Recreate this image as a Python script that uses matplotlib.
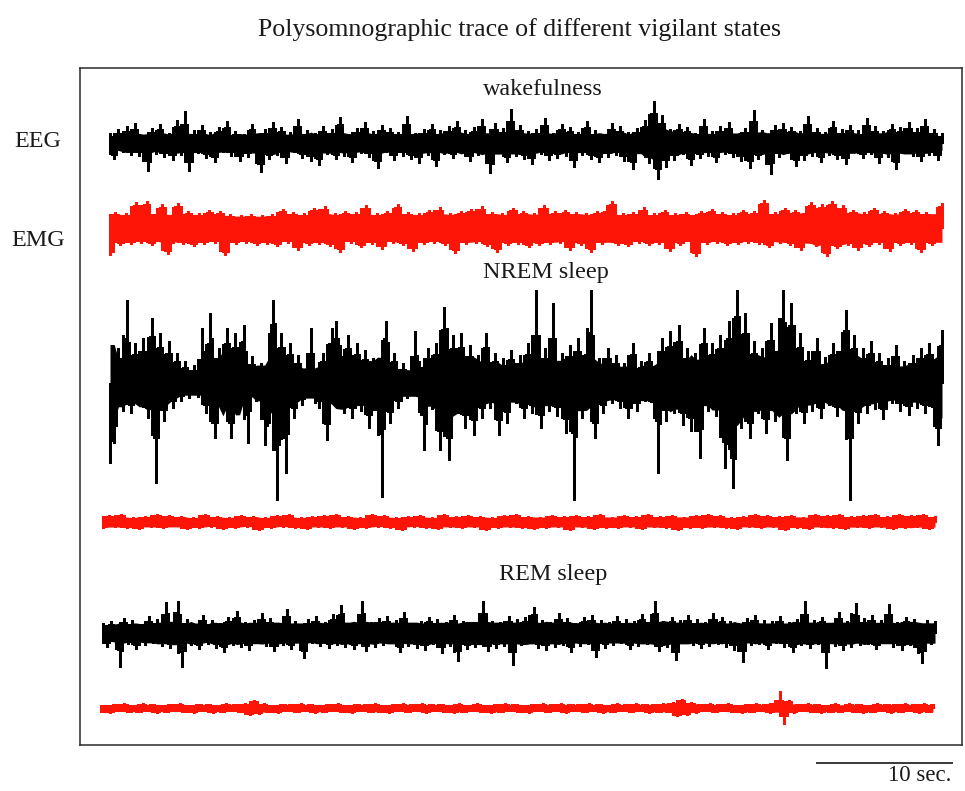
import numpy as np
import matplotlib
matplotlib.use("Agg")
import matplotlib.pyplot as plt

# ---------------- data (amplitudes, a.u. ~ pixels) ----------------
state_labels = ["wakefulness", "NREM sleep", "REM sleep"]
channel_labels = ["EEG", "EMG"]
scale_bar_seconds = 10

wake_eeg = [
    10, -16, 14, -9, 17, -12, 20, -13, -8, -28, 15, -11, 19, -14, 10, -17, 23, -12, 32, -28,
    13, -10, 18, -15, 11, -19, 16, -9, 22, -13, 12, -18, 9, -14, 19, -11, -29, 14, -16, 21,
    -12, 16, -20, 11, -9, 24, -15, 13, -18, 10, -22, 17, -11, 14, -16, 26, -13, 9, -19, 15,
    -10, 21, -14, 12, -25, 18, -9, 15, -17, 11, -13, 27, -16, 10, -20, 14, -12, 19, -23, 13,
    -11, 17, -15, 22, -9, 13, -18, 16, -12, 24, -14, -30, 20, -10, 15, -19, 34, -13, 18, -16,
    12, -21, 14, -11, 25, -17, 10, -15, 19, -13, 16, -24, 11, -12, 22, -16, 13, -19, 9, -14,
    20, -12, 17, -18, 11, -26, 15, -10, 23, -20, 42, -36, 28, -24, 14, -17, 19, -11, 16, -22,
    10, -15, 24, -13, 12, -19, 17, -11, 21, -14, 9, -18, 15, -25, 33, -16, 13, -12, -31, 18,
    -14, 20, -10, 16, -23, 12, -17, 27, -13, 15, -19, 11, -12, 22, -16, 14, -21, 18, -9, 13,
    -15, 25, -11, 17, -20, 12, -14, 19, -26, 16, -10, 21, -13, 15, -18, 24, -12, 14, -17, 10,
]

wake_emg = [
    -27, 16, -17, 15, -16, 26, -15, 27, -17, 16, 24, -26, -15, 25, -16, 17, -18, 15, -16, 18,
    -15, 17, -27, 14, -16, 13, -15, 14, -17, 13, -16, 14, -18, 19, -15, 16, -22, 15, -17, 20,
    -16, 22, -18, 15, -24, 17, -15, 16, -19, 23, -16, 15, -21, 17, -15, 24, -17, 16, -23, 15,
    -16, 18, -15, 21, -17, 15, -25, 17, -16, 19, -15, 22, -18, 16, -24, 15, -17, 20, -16, 17,
    -19, 15, -17, 23, -16, 17, -15, 18, -22, 16, -17, 15, -24, 17, -16, 19, 27, -17, 15, -18,
    16, -15, 21, -17, 15, -16, 18, -23, 15, -17, 16, -15, -28, 17, -16, 19, -15, 16, -17, 15,
    -16, 18, -15, 17, -16, 28, -19, 16, -15, 20, -17, 18, -22, 17, 26, -18, 24, -28, 27, -20,
    23, -17, 18, -22, 16, -18, 20, -16, 17, -23, 15, -17, 19, -16, 18, -24, 16, -17, 15, 25,
]

nrem_eeg = [
    -80, -60, 35, -28, 83, -30, 40, -22, 45, -35, 65, -100, 50, -38, 42, -25, 30, -18, 22, -15,
    18, -14, 55, -30, 70, -55, 35, -28, 55, -55, 50, -20, 58, -60, 27, -18, 20, -62, -40, 83,
    -117, 50, -90, 40, -35, 28, -22, 18, 55, -20, -25, 30, -57, 55, 62, 38, -30, 48, -35, 40,
    -28, 33, -45, 25, -38, -114, 62, -40, 30, -25, 20, -15, 14, 52, 22, -67, 35, -26, 40, -67,
    76, -77, 48, -30, 50, -45, 38, -52, 28, -35, 50, -25, 30, -52, 25, -40, 33, -20, 28, -35,
    40, -30, 93, -45, 35, -28, 80, -33, 30, -50, 38, -117, 45, -35, 40, 93, -55, 25, -30, 35,
    -20, 28, -25, 20, -35, 40, -28, 22, -18, 30, -26, -90, 45, -38, 52, -30, 58, -42, 35, -48,
    30, -75, 55, -28, 40, -33, 48, -85, 62, -105, 93, -45, 70, -55, 42, -30, 35, -50, 60, -38,
    45, 93, -77, 80, -30, 50, -40, 32, -28, 45, -35, 26, -22, 40, -33, 45, 73, -117, 48, -40,
    35, -30, 42, -26, 30, -36, 25, -20, 38, -28, 22, -32, 28, -25, 35, -30, 40, -33, -62, 53,
]

nrem_emg = [
    -6, 7, -5, 8, -6, 5, -7, 6, -5, 8, -6, 7, -4, 6, -7, 5, -6, 8, -5, 6,
    -7, 5, -6, 7, -5, 6, -8, 5, -6, 7, -5, 8, -6, 5, -7, 6, -5, 7, -6, 8,
    -5, 6, -7, 5, -6, 8, -5, 7, -6, 5, -8, 6, -5, 7, -6, 5, -7, 8, -5, 6,
    -6, 7, -5, 6, -8, 5, -6, 7, -5, 8, -6, 6, -7, 5, -6, 7, -5, 6, -8, 7,
    -5, 6, -7, 8, -6, 5, -6, 7, -5, 6, -7, 8, -5, 6, -6, 7, -8, 5, -6, 7,
    -6, 8, -5, 7, -6, 5, -7, 6, -5, 8, -6, 7, -5, 6, -8, 7, -6, 5, -7, 8,
    -5, 7, -6, 8, -7, 6, -5, 7, -6, 8, -5, 6, -7, 8, -6, 7, -5, 8, -7, 6,
]

rem_eeg = [
    10, -14, 12, -9, -34, 15, -11, 13, -16, 9, -12, 17, -10, 14, -13, 31, -15, 11, 32, -34,
    14, -12, 9, -16, 18, -11, 13, -15, 10, -19, 16, -12, 22, -14, 11, -17, 13, -10, 20, -13,
    15, -18, 9, -12, 24, -16, 12, -11, -25, 14, -10, 17, -13, 11, -15, 19, -12, 28, -14, 10,
    -16, 13, 32, -18, 11, -14, 15, -12, 17, -10, 13, -19, 21, -13, 10, -15, 12, -17, 16, -11,
    14, -20, 11, -13, 18, -28, 12, -16, 10, -14, 15, 32, -18, 12, -15, 11, -13, 17, -32, 14,
    -12, 16, -10, 26, -15, 13, -17, 11, -14, 20, -12, 15, -19, 10, -13, 16, -11, 18, -24, 13,
    -15, 11, -12, 17, -10, 14, -16, 12, -13, 19, -11, 15, 32, -18, 12, -14, 16, -27, 13, -10,
    18, -12, 14, -15, 11, -13, 20, -11, 16, -14, 12, -17, 10, -29, 15, -12, 18, -11, 13, -16,
    12, -10, 17, -14, 11, -19, 14, -12, 32, -15, 13, -11, 16, -35, 10, -13, 21, -17, 12, -14,
    30, -12, 15, -11, 18, -16, 13, -10, 29, -14, 11, -17, 16, -12, 14, -20, -30, 13, -11, 12,
]

rem_emg = [
    -4, 3, -5, 4, -3, 5, -4, 3, -4, 5, -3, 4, -5, 3, -4, 4, -3, 5, -4, 3,
    -5, 4, -3, 4, -5, 3, -4, 5, -3, 4, -4, 5, -7, 8, -6, 5, -4, 3, -5, 4,
    -3, 4, -4, 5, -3, 4, -5, 3, -4, 4, -3, 5, -4, 3, -5, 4, -3, 4, -4, 5,
    -4, 3, -5, 4, -3, 5, -4, 4, -3, 5, -5, 4, -3, 4, -4, 3, -5, 5, -4, 3,
    -3, 5, -4, 3, -5, 4, -4, 5, -3, 4, -4, 3, -5, 4, -3, 5, -4, 4, -3, 5,
    -5, 4, -3, 4, -4, 5, -3, 4, -5, 3, -4, 5, -3, 4, -4, 5, -3, 4, -5, 4,
    -4, 5, -4, 6, -8, 9, -7, 6, -5, 4, -3, 5, -4, 4, -3, 5, -4, 3, -5, 4,
    -4, 5, -3, 4, -5, 6, 17, -16, 8, -5, 4, -3, 5, -4, 4, -5, 3, -4, 5, -4,
    -3, 5, -4, 4, -5, 3, -4, 5, -3, 4, -5, 4, -4, 5, -3, 4, -5, 5, -4, 4,
]

# ---------------- layout / style ----------------
W, H = 965, 791
DPI = 100
FONT = ["Liberation Serif", "DejaVu Serif"]
TXT = "#1a1a1a"
BLACK = "#000000"
RED = "#ff1408"

PX_PER_S = 13.7          # 10 s scale bar length in pixels / 10
X0_PX = 110              # t = 0 at this pixel column
TRACE_PX = 832


def t_of(px):
    return (px - X0_PX) / PX_PER_S


fig = plt.figure(figsize=(W / DPI, H / DPI), dpi=DPI)
fig.patch.set_facecolor("white")
box_l, box_r, box_t, box_b = 80, 962, 68, 745
ax = fig.add_axes([box_l / W, 1 - box_b / H, (box_r - box_l) / W, (box_b - box_t) / H])
ax.set_xlim(t_of(box_l), t_of(box_r))
ax.set_ylim(box_b, box_t)   # y in pixel units (down)
ax.set_xticks([])
ax.set_yticks([])
for s in ax.spines.values():
    s.set_color("#2a2a2a")
    s.set_linewidth(1.1)


def rolling_low_abs(a, w=7, q=30):
    a = np.abs(np.asarray(a, dtype=float))
    h = w // 2
    p = np.pad(a, h, mode="edge")
    return np.array([np.percentile(p[i:i + w], q) for i in range(len(a))])


def draw_trace(values, start_px, centre_px, color, lw, k_core,
               k_next=0.7, k_mid=0.72, k_cap=1.5):
    v = np.asarray(values, dtype=float)
    t0 = t_of(start_px)
    t = t0 + np.linspace(0, TRACE_PX / PX_PER_S, len(v))
    low = rolling_low_abs(v)
    core = low * k_core
    cap = low * k_cap
    ax.fill_between(t, centre_px - core, centre_px + core, color=color,
                    linewidth=0, zorder=2)
    nxt = np.clip(k_next * np.append(v[1:], v[-1]), -cap, cap)
    # column at each sample: its full value plus a (capped) part of the next swing
    hi = np.maximum(np.maximum(v, nxt), 0)
    lo = np.minimum(np.minimum(v, nxt), 0)
    ax.vlines(t, centre_px - hi, centre_px - lo, colors=color, lw=lw, zorder=3,
              antialiased=False)
    # in-between columns (capped partial swing between consecutive samples)
    tm = 0.5 * (t[:-1] + t[1:])
    cm = 0.5 * (cap[:-1] + cap[1:])
    hi = np.minimum(k_mid * np.maximum(np.maximum(v[:-1], v[1:]), 0), cm)
    lo = np.maximum(k_mid * np.minimum(np.minimum(v[:-1], v[1:]), 0), -cm)
    ax.vlines(tm, centre_px - hi, centre_px - lo, colors=color, lw=lw, zorder=3,
              antialiased=False)


# wakefulness
draw_trace(wake_eeg, 110, 143, BLACK, 0.75, 0.75)
draw_trace(wake_emg, 110, 228, RED, 0.8, 0.85, 0.85, 0.88, 1.6)
# NREM
draw_trace(nrem_eeg, 110, 383, BLACK, 0.75, 0.7, 0.7, 0.72, 1.4)
draw_trace(nrem_emg, 103, 522, RED, 0.8, 0.85, 0.85, 0.88, 1.6)
# REM
draw_trace(rem_eeg, 103, 633, BLACK, 0.75, 0.85)
draw_trace(rem_emg, 101, 708, RED, 0.8, 0.85, 0.85, 0.88, 1.6)

LBL = 17.4
ax.text(t_of(543), 90, state_labels[0], ha="center", va="center", fontsize=LBL,
        family=FONT, color=TXT)
ax.text(t_of(546), 273, state_labels[1], ha="center", va="center", fontsize=LBL,
        family=FONT, color=TXT)
ax.text(t_of(553), 575, state_labels[2], ha="center", va="center", fontsize=LBL,
        family=FONT, color=TXT)

ax.text(t_of(38), 142, channel_labels[0], ha="center", va="center", fontsize=LBL,
        family=FONT, color=TXT, clip_on=False)
ax.text(t_of(38), 241, channel_labels[1], ha="center", va="center", fontsize=LBL,
        family=FONT, color=TXT, clip_on=False)

# scale bar (10 s)
sb0 = t_of(816)
ax.plot([sb0, sb0 + scale_bar_seconds], [763, 763], color="#2a2a2a", lw=1.3,
        clip_on=False, solid_capstyle="butt")
ax.text(sb0 + scale_bar_seconds - 0.1, 776, f"{scale_bar_seconds} sec.", ha="right",
        va="center", fontsize=16.5, family=FONT, color=TXT, clip_on=False)

fig.text(520 / W, 1 - 30 / H, "Polysomnographic trace of different vigilant states",
         ha="center", va="center", fontsize=18.6, family=FONT, color=TXT)

fig.savefig("out.png", dpi=DPI, facecolor="white")
